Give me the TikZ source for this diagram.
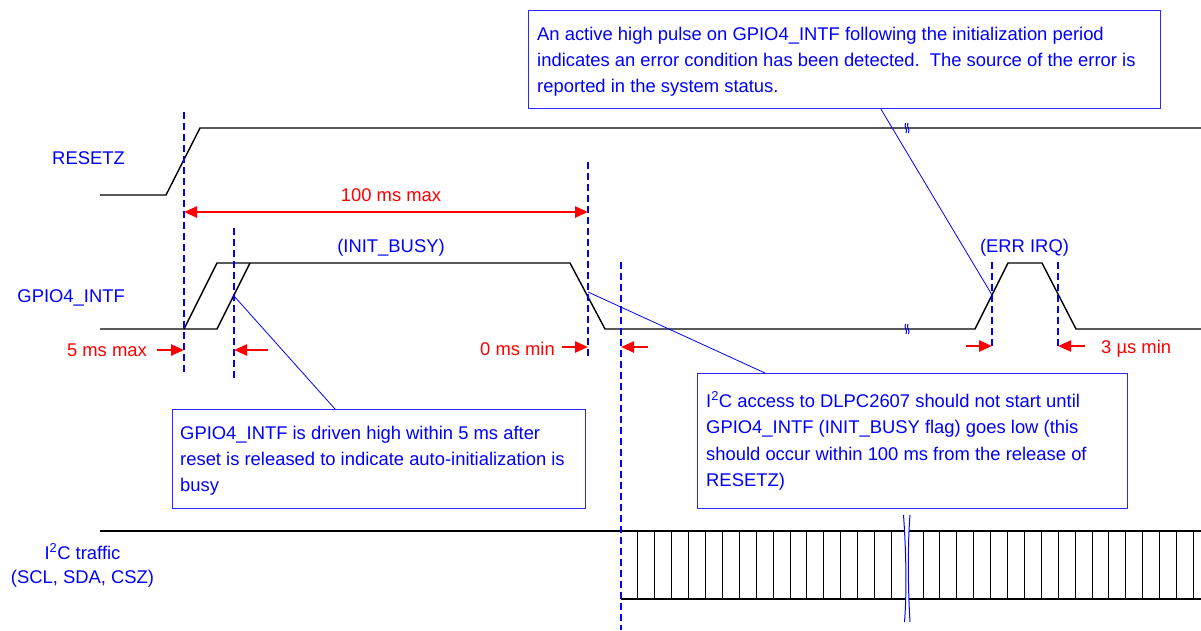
\documentclass[tikz,border=0pt]{standalone}
\usepackage{fontspec}
\setmainfont{Liberation Sans}
\usetikzlibrary{arrows.meta}
\definecolor{txtblue}{RGB}{0,0,255}
\definecolor{boxblue}{RGB}{40,40,255}
\definecolor{arrred}{RGB}{255,0,0}
\begin{document}
\begin{tikzpicture}[x=1pt,y=-1pt,
  wave/.style={black, line width=1.4pt, line join=miter},
  busline/.style={black, line width=1.4pt},
  tick/.style={black, line width=0.9pt},
  vdash/.style={txtblue, line width=2.7pt, dash pattern=on 7pt off 4pt},
  redarr/.style={arrred, line width=2.4pt, -{Triangle[length=13pt,width=11pt]}},
  dblarr/.style={arrred, line width=2.4pt, {Triangle[length=13pt,width=11pt]}-{Triangle[length=13pt,width=11pt]}},
  bluetxt/.style={text=txtblue, font=\fontsize{18.4}{26}\selectfont, inner sep=0pt},
  redtxt/.style={text=arrred, font=\fontsize{18.4}{26}\selectfont, inner sep=0pt},
  callout/.style={draw=boxblue, line width=1.2pt},
  leader/.style={txtblue, line width=0.8pt},
  brk/.style={txtblue, line width=1pt},
]
\fill[white] (0,0) rectangle (1201,630);
\useasboundingbox (0,0) rectangle (1201,630);

% ---------- signal labels ----------
\node[bluetxt, anchor=base east] (lreset) at (125,164) {RESETZ};
\node[bluetxt, anchor=base east] (lgpio) at (125,302) {GPIO4\_INTF};
\node[bluetxt, anchor=base] (li2c1) at (82.5,559) {I\textsuperscript{2}C traffic};
\node[bluetxt, anchor=base] (li2c2) at (82.5,583) {(SCL, SDA, CSZ)};

% ---------- waveforms ----------
\draw[wave] (100,195) -- (166,195) -- (200,128) -- (1201,128);
\draw[wave] (100,329) -- (217,329) -- (250,263);
\draw[wave] (184,329) -- (217,263) -- (570,263) -- (605,329) -- (975,329)
  -- (1008,263) -- (1042,263) -- (1076,329) -- (1201,329);

% small break marks on waveforms
\foreach \yy in {128,329}{
  \draw[brk] (905.5,\yy-5) .. controls (903.5,\yy-1) and (908,\yy+1) .. (906,\yy+5);
  \draw[brk] (908,\yy-5) .. controls (906,\yy-1) and (910.5,\yy+1) .. (908.5,\yy+5);
}

% ---------- I2C bus ----------
\draw[busline] (100,531) -- (1201,531);
\draw[busline] (621,599) -- (1201,599);
\foreach \k in {1,...,16}{
  \draw[tick] (621+16.9*\k,531) -- (621+16.9*\k,599);
}
\foreach \k in {0,...,16}{
  \draw[tick] (923+16.9*\k,531) -- (923+16.9*\k,599);
}
\fill[white] (903.5,515) .. controls (906,550) and (907,590) .. (904.5,622)
  -- (910,622) .. controls (908,590) and (907.5,545) .. (910,515) -- cycle;
\draw[brk] (903.5,515) .. controls (906,550) and (907,590) .. (904.5,622);
\draw[brk] (910,515) .. controls (907.5,545) and (908,590) .. (910,622);

% ---------- dashed timing markers ----------
\coordinate (d1t) at (184,112); \coordinate (d1b) at (184,373);
\coordinate (d2t) at (234,228); \coordinate (d2b) at (234,381);
\coordinate (d3t) at (588,162); \coordinate (d3b) at (588,358);
\coordinate (d4t) at (621,262); \coordinate (d4b) at (621,630);
\coordinate (d5t) at (992,262); \coordinate (d5b) at (992,350);
\coordinate (d6t) at (1058,262); \coordinate (d6b) at (1058,350);
\draw[vdash] (d1t) -- (d1b);
\draw[vdash] (d2t) -- (d2b);
\draw[vdash] (d3t) -- (d3b);
\draw[vdash] (d4t) -- (d4b);
\draw[vdash] (d5t) -- (d5b);
\draw[vdash] (d6t) -- (d6b);

% ---------- red timing arrows ----------
\coordinate (a100l) at (184,212); \coordinate (a100r) at (588,212);
\draw[dblarr] (a100l) -- (a100r);
\node[redtxt, anchor=base] (t100) at (391,201) {100 ms max};

\coordinate (a5s) at (157,350); \coordinate (a5e) at (184,350);
\coordinate (b5s) at (268,350); \coordinate (b5e) at (234,350);
\draw[redarr] (a5s) -- (a5e);
\draw[redarr] (b5s) -- (b5e);
\node[redtxt, anchor=base east] (t5) at (147,356) {5 ms max};

\coordinate (a0s) at (562,347); \coordinate (a0e) at (588,347);
\coordinate (b0s) at (648,347); \coordinate (b0e) at (621,347);
\draw[redarr] (a0s) -- (a0e);
\draw[redarr] (b0s) -- (b0e);
\node[redtxt, anchor=base east] (t0) at (555,355) {0 ms min};

\coordinate (a3s) at (966,346); \coordinate (a3e) at (992,346);
\coordinate (b3s) at (1085,346); \coordinate (b3e) at (1058,346);
\draw[redarr] (a3s) -- (a3e);
\draw[redarr] (b3s) -- (b3e);
\node[redtxt, anchor=base west] (t3) at (1101,353) {3 µs min};

% ---------- pulse labels ----------
\node[bluetxt, anchor=base] (tinit) at (391,252) {(INIT\_BUSY)};
\node[bluetxt, anchor=base] (terr) at (1024.5,252) {(ERR IRQ)};

% ---------- callouts ----------
\node[callout, anchor=north west, minimum width=632pt, minimum height=98pt, inner sep=0pt] (box1) at (528,10) {};
\node[bluetxt, anchor=base west] (b1l1) at (537,40) {An active high pulse on GPIO4\_INTF following the initialization period};
\node[bluetxt, anchor=base west] (b1l2) at (537,66) {indicates an error condition has been detected.\ \ The source of the error is};
\node[bluetxt, anchor=base west] (b1l3) at (537,92) {reported in the system status.};

\node[callout, anchor=north west, minimum width=413pt, minimum height=99pt, inner sep=0pt] (box2) at (172,409) {};
\node[bluetxt, anchor=base west] (b2l1) at (180,439) {GPIO4\_INTF is driven high within 5 ms after};
\node[bluetxt, anchor=base west] (b2l2) at (180,465) {reset is released to indicate auto-initialization is};
\node[bluetxt, anchor=base west] (b2l3) at (180,491) {busy};

\node[callout, anchor=north west, minimum width=430pt, minimum height=135pt, inner sep=0pt] (box3) at (697,373) {};
\node[bluetxt, anchor=base west] (b3l1) at (706,407) {I\textsuperscript{2}C access to DLPC2607 should not start until};
\node[bluetxt, anchor=base west] (b3l2) at (706,433) {GPIO4\_INTF (INIT\_BUSY flag) goes low (this};
\node[bluetxt, anchor=base west] (b3l3) at (706,460) {should occur within 100 ms from the release of};
\node[bluetxt, anchor=base west] (b3l4) at (706,486) {RESETZ)};

% leader lines
\coordinate (p1) at (992,295);
\coordinate (p2) at (234,296);
\coordinate (p3) at (588,292);
\draw[leader] (box1.south west) ++(353,0) coordinate (q1) -- (p1);
\draw[leader] (box2.north west) ++(163,0) coordinate (q2) -- (p2);
\draw[leader] (box3.north west) ++(68,0) coordinate (q3) -- (p3);
\end{tikzpicture}
\end{document}
